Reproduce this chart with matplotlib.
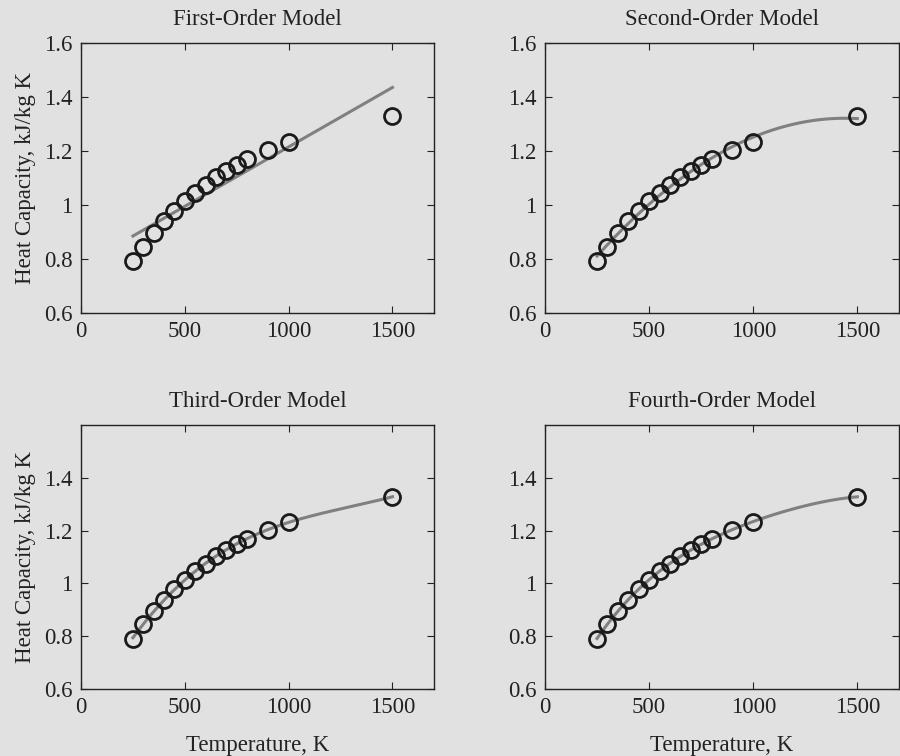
import numpy as np
import matplotlib
matplotlib.use("Agg")
import matplotlib.pyplot as plt
from matplotlib.ticker import FuncFormatter

T = [250, 300, 350, 400, 450, 500, 550, 600, 650, 700, 750, 800, 900, 1000, 1500]
cp = [0.791, 0.846, 0.895, 0.939, 0.978, 1.014, 1.046, 1.075, 1.102, 1.126,
      1.148, 1.169, 1.204, 1.234, 1.328]
titles = ["First-Order Model", "Second-Order Model", "Third-Order Model", "Fourth-Order Model"]
orders = [1, 2, 3, 4]
xticks = [0, 500, 1000, 1500]
yticks_top = [0.6, 0.8, 1.0, 1.2, 1.4, 1.6]
yticks_bottom = [0.6, 0.8, 1.0, 1.2, 1.4]

plt.rcParams['font.family'] = ['Liberation Serif', 'DejaVu Serif']
bg = '#e1e1e1'
fig = plt.figure(figsize=(9, 7.56), dpi=100, facecolor=bg)
W, H = 900, 756
positions = [(81, 43, 434, 313), (545, 43, 899, 313), (81, 425, 434, 689), (545, 425, 899, 689)]

Tarr = np.array(T, dtype=float)
carr = np.array(cp)
fmt = FuncFormatter(lambda v, p: ('%g' % round(v, 2)))
for i, (x0, y0, x1, y1) in enumerate(positions):
    ax = fig.add_axes([x0 / W, 1 - y1 / H, (x1 - x0) / W, (y1 - y0) / H])
    ax.set_facecolor(bg)
    coef = np.polyfit(Tarr, carr, orders[i])
    xs = np.linspace(T[0], T[-1], 200)
    ax.plot(xs, np.polyval(coef, xs), color='#808080', lw=2.2, zorder=2)
    ax.plot(T, cp, 'o', mfc='none', mec='#1a1a1a', ms=11.5, mew=2.0, zorder=3)
    ax.set_xlim(0, 1700)
    ax.set_ylim(0.6, 1.6)
    ax.set_xticks(xticks)
    ax.set_yticks(yticks_top if i < 2 else yticks_bottom)
    ax.yaxis.set_major_formatter(fmt)
    ax.tick_params(direction='in', top=True, right=True, length=5, width=0.8,
                   labelsize=16.5, colors='#222222', pad=6)
    for s in ax.spines.values():
        s.set_linewidth(1.0)
        s.set_color('#222222')
    ax.set_title(titles[i], fontsize=16.5, pad=13, color='#222222')
    if i % 2 == 0:
        ax.set_ylabel("Heat Capacity, kJ/kg K", fontsize=16.5, color='#222222', labelpad=6)
    if i >= 2:
        ax.set_xlabel("Temperature, K", fontsize=16.5, color='#222222', labelpad=12)

fig.savefig("out.png", dpi=100, facecolor=bg)
